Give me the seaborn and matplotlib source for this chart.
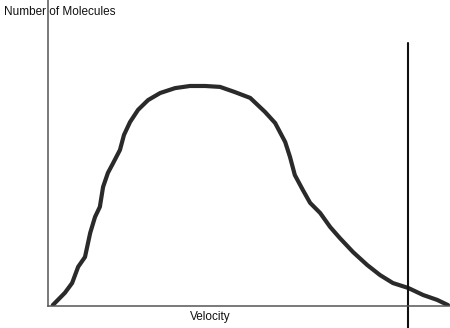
import matplotlib
matplotlib.use("Agg")
import matplotlib.pyplot as plt
import seaborn as sns
import pandas as pd

# Hand-traced speed distribution curve (velocity, number of molecules)
velocity = [1.2, 4.2, 6.0, 7.5, 9.2, 10.5, 11.7, 12.9, 13.7, 14.9, 16.2, 17.9,
            18.9, 20.4, 22.4, 24.9, 27.9, 31.6, 35.3, 39.1, 42.8, 46.5, 50.3,
            54.0, 56.5, 59.0, 60.2, 61.4, 63.4, 65.2, 67.7, 70.2, 72.6, 75.9,
            79.4, 82.6, 85.8, 89.6, 93.3, 96.8, 99.5]
molecules = [0.3, 4.3, 7.5, 12.8, 16.0, 23.9, 29.1, 32.4, 38.9, 43.5, 46.7, 51.0,
             55.9, 60.1, 64.1, 67.3, 69.6, 71.2, 71.9, 71.9, 71.6, 69.9, 68.0,
             63.4, 59.8, 53.6, 48.7, 42.8, 37.9, 33.7, 30.4, 25.8, 22.2, 17.6,
             13.4, 10.1, 7.5, 5.9, 3.6, 2.0, 0.3]

# Marker velocity and vertical extent of the cutoff line
cutoff_velocity = 89.6
cutoff_top = 86.0

df = pd.DataFrame({"Velocity": velocity, "Molecules": molecules})

sns.set_style("white")
plt.rcParams["font.family"] = ["Liberation Sans", "DejaVu Sans"]

fig = plt.figure(figsize=(4.5, 3.28), dpi=100)
ax = fig.add_axes([48 / 450, 22 / 328, 1 - 48 / 450, 1 - 22 / 328])

sns.lineplot(data=df, x="Velocity", y="Molecules", sort=False, ax=ax,
             color="#2a2a2a", linewidth=3.0, solid_capstyle="round",
             solid_joinstyle="round")

ax.plot([cutoff_velocity, cutoff_velocity], [cutoff_top, -8], color="#111111",
        linewidth=1.5, clip_on=False)

ax.set_xlim(0, 100)
ax.set_ylim(0, 100)
ax.set_xticks([])
ax.set_yticks([])
ax.set_ylabel("")
ax.set_xlabel("")

for side in ("top", "right"):
    ax.spines[side].set_visible(False)
for side in ("left", "bottom"):
    ax.spines[side].set_color("#555555")
    ax.spines[side].set_linewidth(1.1)

fig.text(4 / 450, 1 - 12 / 328, "Number of Molecules", fontsize=8.5,
         va="center", ha="left", color="#111111")
fig.text(210 / 450, 1 - 317 / 328, "Velocity", fontsize=8.5,
         va="center", ha="center", color="#111111")

fig.savefig("out.png", dpi=100)
